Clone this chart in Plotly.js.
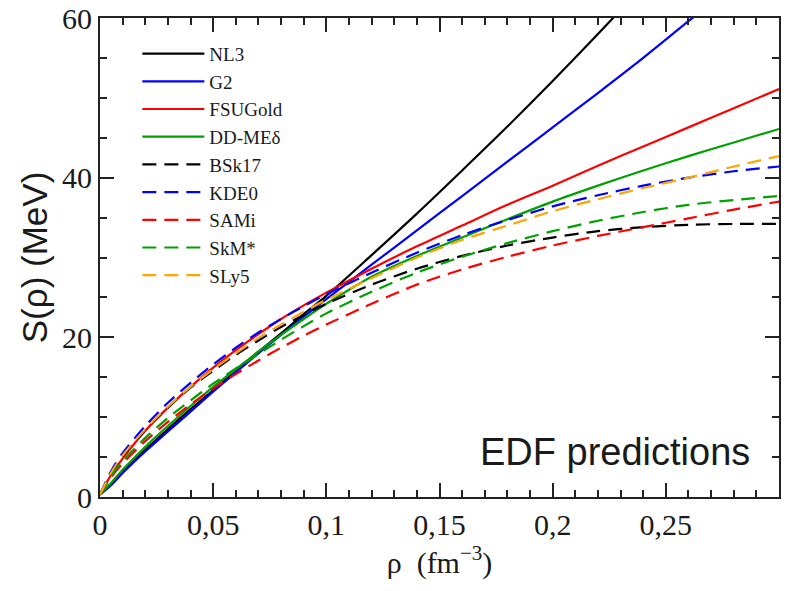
<!DOCTYPE html>
<html>
<head>
<meta charset="utf-8">
<script src="https://cdn.plot.ly/plotly-3.0.1.min.js"></script>
<style>html,body{margin:0;padding:0;background:#fff;}#chart{width:787px;height:591px;}</style>
</head>
<body>
<div id="chart"></div>
<script>
// density grid (fm^-3)
const rho = [0, 0.005, 0.01, 0.02, 0.03, 0.04, 0.05, 0.06, 0.07, 0.08, 0.09, 0.1, 0.12, 0.14, 0.16, 0.18, 0.2, 0.22, 0.24, 0.26, 0.28, 0.3];

// symmetry energy S(rho) in MeV
const NL3     = [0.3, 1.6, 3.1, 5.9, 8.5, 11.0, 13.4, 15.8, 18.2, 20.5, 22.9, 25.2, 30.3, 35.5, 40.9, 46.4, 52.1, 58.0, 64.0, 70.1, 76.3, 82.5];
const G2      = [0.3, 1.5, 3.0, 5.7, 8.2, 10.7, 13.2, 15.6, 18.0, 20.3, 22.6, 24.8, 29.1, 33.4, 37.7, 42.0, 46.3, 50.6, 55.0, 59.6, 64.2, 68.9];
const FSUGold = [0.3, 2.8, 4.8, 8.3, 11.2, 13.8, 16.2, 18.4, 20.4, 22.3, 24.0, 25.6, 28.6, 31.4, 34.0, 36.6, 39.0, 41.5, 43.9, 46.3, 48.7, 51.1];
const DDMEd   = [0.3, 1.8, 3.4, 6.3, 8.9, 11.4, 13.8, 16.0, 18.2, 20.3, 22.3, 24.2, 27.6, 30.2, 32.5, 34.8, 37.0, 39.0, 40.9, 42.7, 44.4, 46.1];
const BSk17   = [0.3, 3.0, 5.1, 8.4, 11.2, 13.7, 15.8, 17.8, 19.6, 21.3, 22.8, 24.2, 26.6, 28.6, 30.2, 31.5, 32.5, 33.3, 33.8, 34.1, 34.2, 34.2];
const KDE0    = [0.3, 3.3, 5.5, 8.9, 11.8, 14.3, 16.6, 18.7, 20.6, 22.3, 23.9, 25.4, 28.1, 30.6, 32.8, 34.7, 36.4, 37.8, 39.0, 40.0, 40.8, 41.4];
const SAMi    = [0.3, 2.5, 4.2, 7.0, 9.4, 11.6, 13.6, 15.4, 17.1, 18.7, 20.2, 21.6, 24.2, 26.6, 28.5, 30.1, 31.5, 32.7, 33.8, 34.9, 36.0, 37.0];
const SkMs    = [0.3, 2.7, 4.5, 7.4, 9.9, 12.1, 14.2, 16.1, 17.9, 19.7, 21.4, 23.0, 25.7, 28.1, 30.1, 31.8, 33.3, 34.6, 35.7, 36.6, 37.2, 37.7];
const SLy5    = [0.3, 3.1, 5.2, 8.5, 11.3, 13.8, 16.0, 18.0, 19.9, 21.6, 23.2, 24.7, 27.4, 30.0, 32.2, 34.0, 35.8, 37.3, 38.7, 40.0, 41.4, 42.7];

const names  = ["NL3", "G2", "FSUGold", "DD-ME\u03b4", "BSk17", "KDE0", "SAMi", "SkM*", "SLy5"];
const series = [NL3, G2, FSUGold, DDMEd, BSk17, KDE0, SAMi, SkMs, SLy5];
const colors = ["#000000", "#0000ff", "#ff0000", "#00a000", "#000000", "#0000ff", "#ff0000", "#00a000", "#ffa500"];
const dashes = ["solid", "solid", "solid", "solid", "14px,8px", "14px,8px", "14px,8px", "14px,8px", "14px,8px"];

const xTickVals = [0, 0.05, 0.1, 0.15, 0.2, 0.25];
const yTickVals = [0, 20, 40, 60];

const traces = series.map((s, i) => ({
  x: rho, y: s, name: names[i], type: "scatter", mode: "lines",
  line: {color: colors[i], width: 2.2, dash: dashes[i], shape: "spline", smoothing: 0.8}
}));

const serif = "Liberation Serif, Times New Roman, serif";
const sans = "Liberation Sans, Arial, sans-serif";

const layout = {
  width: 787, height: 591,
  margin: {l: 100, r: 8, t: 18, b: 94},
  paper_bgcolor: "#fff", plot_bgcolor: "#fff",
  separators: ",.",
  showlegend: true,
  legend: {x: 0.055, y: 0.965, xanchor: "left", yanchor: "top", bgcolor: "rgba(0,0,0,0)",
           itemwidth: 62,
           font: {family: serif, size: 19, color: "#1a1a1a"}},
  xaxis: {
    range: [0, 0.3], tickvals: xTickVals, ticks: "inside", ticklen: 14, tickwidth: 2, tickcolor: "#222",
    showline: true, linewidth: 2, linecolor: "#222", mirror: "allticks", showgrid: false, zeroline: false,
    tickfont: {family: serif, size: 30, color: "#1a1a1a"},
    minor: {dtick: 0.01, tick0: 0, ticks: "inside", ticklen: 7, tickwidth: 2, tickcolor: "#222", showgrid: false},
    title: {text: "\u03c1  (fm<sup>\u22123</sup>)", font: {family: serif, size: 30, color: "#1a1a1a"}, standoff: 6},
    automargin: false
  },
  yaxis: {
    range: [0, 60], tickvals: yTickVals, ticks: "inside", ticklen: 14, tickwidth: 2, tickcolor: "#222",
    showline: true, linewidth: 2, linecolor: "#222", mirror: "allticks", showgrid: false, zeroline: false,
    tickfont: {family: serif, size: 30, color: "#1a1a1a"},
    minor: {dtick: 5, tick0: 0, ticks: "inside", ticklen: 7, tickwidth: 2, tickcolor: "#222", showgrid: false},
    title: {text: "S(\u03c1) (MeV)", font: {family: sans, size: 35, color: "#1a1a1a"}, standoff: 4},
    automargin: false
  },
  annotations: [{
    xref: "paper", yref: "paper", x: 0.96, y: 0.094, xanchor: "right", yanchor: "middle",
    text: "EDF predictions", showarrow: false, font: {family: sans, size: 38, color: "#1a1a1a"}
  }]
};

Plotly.newPlot("chart", traces, layout, {staticPlot: true, displayModeBar: false});
</script>
</body>
</html>
